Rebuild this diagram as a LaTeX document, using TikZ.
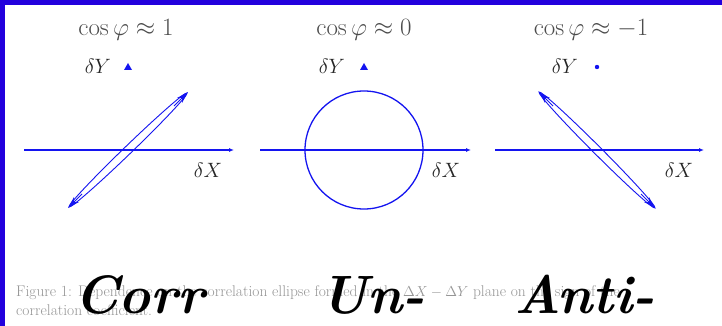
\documentclass[tikz,border=0pt]{standalone}
\usetikzlibrary{arrows.meta}
\definecolor{frameblue}{RGB}{34,0,221}
\definecolor{plotblue}{RGB}{20,20,240}
\definecolor{capgrey}{RGB}{150,150,150}
\tikzset{
  axisline/.style={draw=plotblue, line width=1.6pt, -{Latex[length=5pt,width=4pt]}},
  curve/.style={draw=plotblue, line width=0.9pt},
  tiparrow/.style={draw=plotblue, line width=0.9pt, -{Stealth[length=12pt,width=7pt]}},
  title/.style={text=black!70, font=\fontsize{23}{28}\selectfont, inner sep=0pt},
  axlabel/.style={text=black!85, font=\fontsize{22}{26}\selectfont, inner sep=0pt},
  hand/.style={text=black, font=\fontsize{54}{60}\selectfont\bfseries\itshape, inner sep=0pt, anchor=base west},
  caption/.style={text=capgrey, font=\fontsize{15.5}{18}\selectfont, inner sep=0pt, anchor=base west}
}
\begin{document}
\begin{tikzpicture}[x=1pt, y=-1pt]
\useasboundingbox (0,0) rectangle (722,326);
\fill[white] (0,0) rectangle (722,326);
\fill[frameblue] (0,0) rectangle (722,5);
\fill[frameblue] (0,0) rectangle (5,326);

% ---------- caption (behind handwriting) ----------
\node[caption] (cap1) at (16,296) {Figure 1: Dependence on the correlation ellipse formed in the $\Delta X - \Delta Y$ plane on the sign of the};
\node[caption] (cap2) at (16,315) {correlation coefficient.};

% ---------- panel 1 ----------
\node[title] (t1) at (126,30) {$\cos\varphi \approx 1$};
\node[axlabel] (y1) at (98,66) {$\delta Y$};
\fill[plotblue] (124,70) -- (132,70) -- (128,63) -- cycle;
\coordinate (a1s) at (24,150);
\coordinate (a1e) at (234,150);
\draw[axisline] (a1s) -- (a1e);
\node[axlabel] (x1) at (208,170) {$\delta X$};
\coordinate (c1) at (128,150);
\draw[curve, rotate around={44:(c1)}] (c1) ellipse [x radius=82, y radius=4];
\coordinate (p1a) at (174,106); \coordinate (p1b) at (188,92);
\coordinate (p1c) at (82,194);  \coordinate (p1d) at (68,208);
\draw[tiparrow] (p1a) -- (p1b);
\draw[tiparrow] (p1c) -- (p1d);

% ---------- panel 2 ----------
\node[title] (t2) at (364,30) {$\cos\varphi \approx 0$};
\node[axlabel] (y2) at (332,66) {$\delta Y$};
\fill[plotblue] (360,70) -- (368,70) -- (364,63) -- cycle;
\coordinate (a2s) at (260,150);
\coordinate (a2e) at (471,150);
\draw[axisline] (a2s) -- (a2e);
\node[axlabel] (x2) at (446,170) {$\delta X$};
\coordinate (c2) at (364,150);
\draw[curve, line width=1.3pt] (c2) circle [radius=59];

% ---------- panel 3 ----------
\node[title] (t3) at (591,30) {$\cos\varphi \approx -1$};
\node[axlabel] (y3) at (565,66) {$\delta Y$};
\fill[plotblue] (597,67) circle [radius=2.2];
\coordinate (a3s) at (495,150);
\coordinate (a3e) at (704,150);
\draw[axisline] (a3s) -- (a3e);
\node[axlabel] (x3) at (679,170) {$\delta X$};
\coordinate (c3) at (597,150);
\draw[curve, rotate around={-45:(c3)}] (c3) ellipse [x radius=82, y radius=4];
\coordinate (p3a) at (553,106); \coordinate (p3b) at (539,92);
\coordinate (p3c) at (641,194); \coordinate (p3d) at (655,208);
\draw[tiparrow] (p3a) -- (p3b);
\draw[tiparrow] (p3c) -- (p3d);

% ---------- handwriting ----------
\node[hand] (w1) at (74,313) {Corr};
\node[hand] (w2) at (320,313) {Un-};
\node[hand] (w3) at (514,313) {Anti-};
\end{tikzpicture}
\end{document}
